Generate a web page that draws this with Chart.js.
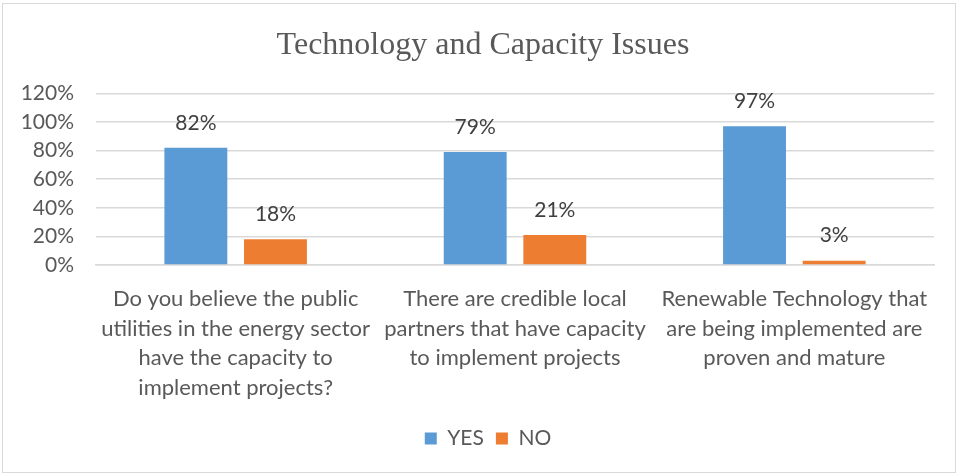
<!DOCTYPE html>
<html>
<head>
<meta charset="utf-8">
<script src="https://cdn.jsdelivr.net/npm/chart.js@4.4.0/dist/chart.umd.min.js"></script>
<style>
  html, body { margin: 0; padding: 0; background: #fff; }
  #wrap { position: relative; width: 963px; height: 475px; }
  #frame { position: absolute; left: 2px; top: 3px; width: 952px; height: 468px;
           border: 1.5px solid #d9d9d9; pointer-events: none; }
</style>
</head>
<body>
<div id="wrap">
  <canvas id="chart" width="963" height="475"></canvas>
  <div id="frame"></div>
</div>
<script>
const categories = [
  ['Do you believe the public', 'utilities in the energy sector', 'have the capacity to', 'implement projects?'],
  ['There are credible local', 'partners that have capacity', 'to implement projects'],
  ['Renewable Technology that', 'are being implemented are', 'proven and mature']
];
const yesValues = [82, 79, 97];
const noValues = [18, 21, 3];
const yTicks = [0, 20, 40, 60, 80, 100, 120];

const labelFont = 'Lato, "Open Sans", sans-serif';

// draws the percentage above each bar
const valueLabels = {
  id: 'valueLabels',
  afterDatasetsDraw(chart) {
    const ctx = chart.ctx;
    ctx.save();
    ctx.font = '21px ' + labelFont;
    ctx.fillStyle = '#404040';
    ctx.textAlign = 'center';
    ctx.textBaseline = 'middle';
    chart.data.datasets.forEach((ds, i) => {
      chart.getDatasetMeta(i).data.forEach((bar, j) => {
        ctx.fillText(ds.data[j] + '%', bar.x, bar.y - 25);
      });
    });
    ctx.restore();
  }
};

// title and legend sit a bit right of the plot centre in the original
const nudgeBoxes = {
  id: 'nudgeBoxes',
  afterLayout(chart) {
    if (chart.titleBlock) { chart.titleBlock.left += 11; chart.titleBlock.right += 11; }
    if (chart.legend) { chart.legend.left += 16; chart.legend.right += 16; }
  }
};

new Chart(document.getElementById('chart'), {
  type: 'bar',
  data: {
    labels: categories,
    datasets: [
      { label: 'YES', data: yesValues, backgroundColor: '#5b9bd5', categoryPercentage: 0.57, barPercentage: 0.79 },
      { label: 'NO', data: noValues, backgroundColor: '#ed7d31', categoryPercentage: 0.57, barPercentage: 0.79 }
    ]
  },
  options: {
    responsive: false,
    animation: false,
    layout: { padding: { left: 10, right: 29, top: 0, bottom: 16 } },
    plugins: {
      title: {
        display: true,
        text: 'Technology and Capacity Issues',
        color: '#595959',
        font: { family: '"Liberation Serif", "DejaVu Serif", serif', size: 32, weight: 'normal' },
        padding: { top: 26, bottom: 29 }
      },
      legend: {
        position: 'bottom',
        labels: {
          color: '#595959',
          font: { family: labelFont, size: 21 },
          boxWidth: 12,
          boxHeight: 12,
          padding: 12
        }
      },
      tooltip: { enabled: false }
    },
    scales: {
      x: {
        grid: { display: false },
        border: { color: '#d9d9d9', width: 1.5 },
        afterFit(scale) { scale.height = 151; },
        ticks: {
          color: '#595959',
          font: { family: labelFont, size: 22, lineHeight: 1.35 },
          padding: 11,
          maxRotation: 0,
          autoSkip: false
        }
      },
      y: {
        min: 0,
        max: 120,
        afterBuildTicks(scale) { scale.ticks = yTicks.map(v => ({ value: v })); },
        afterFit(scale) { scale.width = 86; },
        grid: { color: '#d9d9d9', lineWidth: 1.5, drawTicks: false },
        border: { display: false },
        ticks: {
          color: '#595959',
          font: { family: labelFont, size: 21 },
          padding: 22,
          callback: v => v + '%'
        }
      }
    }
  },
  plugins: [valueLabels, nudgeBoxes]
});
</script>
</body>
</html>
